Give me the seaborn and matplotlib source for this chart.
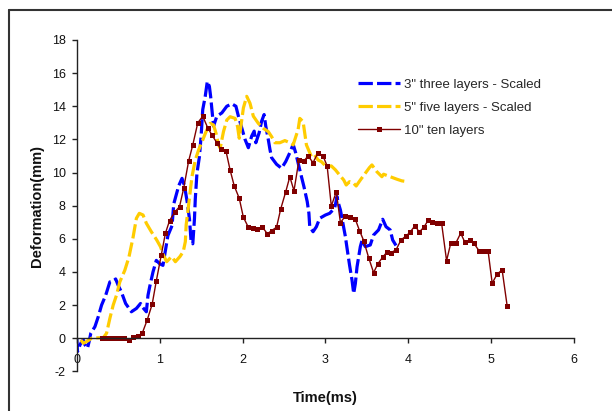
import numpy as np
import pandas as pd
import matplotlib
matplotlib.use("Agg")
import matplotlib.pyplot as plt
from matplotlib.lines import Line2D
import seaborn as sns

# 3" three layers - Scaled
time_3in = [0.00, 0.01, 0.04, 0.06, 0.08, 0.10, 0.13, 0.15, 0.17, 0.22, 0.26, 0.30, 0.35, 0.40,
            0.44, 0.47, 0.50, 0.54, 0.59, 0.66, 0.72, 0.77, 0.79, 0.84, 0.86, 0.88, 0.92, 0.96,
            1.00, 1.04, 1.08, 1.10, 1.15, 1.17, 1.23, 1.27, 1.30, 1.33, 1.36, 1.38, 1.40, 1.42,
            1.43, 1.45, 1.48, 1.50, 1.52, 1.55, 1.575, 1.60, 1.615, 1.65, 1.69, 1.75, 1.81, 1.87,
            1.92, 1.95, 1.99, 2.03, 2.07, 2.11, 2.14, 2.16, 2.20, 2.23, 2.26, 2.28, 2.31, 2.33,
            2.35, 2.41, 2.47, 2.52, 2.57, 2.61, 2.64, 2.69, 2.74, 2.78, 2.80, 2.81, 2.85, 2.89,
            2.93, 3.00, 3.05, 3.11, 3.14, 3.15, 3.18, 3.21, 3.24, 3.26, 3.29, 3.32, 3.34, 3.36,
            3.38, 3.42, 3.44, 3.48, 3.54, 3.58, 3.64, 3.69, 3.73, 3.78, 3.81, 3.85]
defl_3in = [0.0, -0.8, -0.4, -0.2, -0.1, -0.4, -0.6, -0.2, 0.3, 0.7, 1.3, 2.0, 2.6, 3.4,
            3.45, 3.58, 3.2, 2.78, 2.1, 1.6, 1.8, 2.1, 1.9, 1.6, 2.6, 3.1, 4.0, 4.7,
            4.5, 4.4, 5.6, 6.2, 6.8, 8.1, 9.2, 9.65, 9.2, 8.3, 7.2, 5.8, 5.7, 7.2,
            8.4, 9.96, 10.96, 12.17, 13.8, 14.6, 15.5, 15.2, 14.6, 12.8, 13.4, 13.6, 14.0, 14.15,
            14.0, 13.4, 12.7, 12.0, 11.5, 12.2, 12.5, 11.8, 12.4, 13.1, 13.5, 12.8, 12.0, 11.4,
            10.9, 10.5, 10.26, 10.66, 11.2, 11.7, 11.2, 10.16, 9.15, 8.24, 7.54, 6.73, 6.43, 6.73,
            7.24, 7.44, 7.54, 7.85, 8.55, 8.25, 7.74, 6.94, 6.13, 5.43, 4.42, 3.5, 2.7, 3.3,
            4.3, 5.53, 5.9, 5.53, 5.63, 6.23, 6.54, 7.18, 6.73, 6.54, 5.93, 5.6]

# 5" five layers - Scaled
time_5in = [0.05, 0.08, 0.12, 0.15, 0.18, 0.26, 0.32, 0.36, 0.40, 0.44, 0.48, 0.52, 0.58, 0.63,
            0.68, 0.72, 0.755, 0.80, 0.84, 0.90, 0.965, 1.01, 1.045, 1.085, 1.145, 1.19, 1.245,
            1.285, 1.31, 1.32, 1.34, 1.39, 1.43, 1.47, 1.52, 1.56, 1.61, 1.65, 1.68, 1.71, 1.73,
            1.77, 1.81, 1.85, 1.91, 1.94, 1.96, 2.01, 2.05, 2.09, 2.13, 2.19, 2.25, 2.31, 2.35,
            2.39, 2.45, 2.51, 2.57, 2.61, 2.67, 2.69, 2.73, 2.75, 2.77, 2.83, 2.87, 2.91, 2.95,
            3.01, 3.07, 3.12, 3.17, 3.22, 3.25, 3.29, 3.34, 3.37, 3.42, 3.48, 3.53, 3.56, 3.62,
            3.68, 3.70, 3.78, 3.86, 3.92, 3.99]
defl_5in = [-0.1, -0.3, -0.2, -0.1, 0.0, 0.03, 0.03, 0.3, 1.2, 2.0, 2.6, 3.4, 4.1, 4.9,
            6.1, 7.24, 7.54, 7.44, 6.94, 6.43, 5.93, 5.53, 5.03, 4.62, 4.93, 4.62, 4.93,
            5.23, 5.83, 6.84, 7.64, 9.75, 10.76, 11.36, 11.97, 12.47, 12.97, 12.87, 12.37, 11.67, 11.47,
            12.47, 13.17, 13.37, 13.27, 12.77, 12.07, 13.9, 14.6, 14.18, 13.4, 12.97, 12.67, 12.47, 12.17,
            11.8, 11.8, 11.93, 11.8, 11.67, 12.6, 13.27, 13.07, 12.37, 11.67, 10.96, 11.06, 10.76, 10.66,
            10.36, 10.4, 10.16, 9.85, 9.55, 9.25, 9.45, 9.35, 9.19, 9.55, 9.96, 10.3, 10.46, 10.05,
            9.75, 9.9, 9.75, 9.6, 9.5, 9.45]

# 10" ten layers
time_10in = [0.30, 0.36, 0.41, 0.47, 0.52, 0.57, 0.63, 0.68, 0.74, 0.79, 0.85, 0.91, 0.96, 1.02,
             1.07, 1.12, 1.18, 1.24, 1.29, 1.35, 1.40, 1.46, 1.52, 1.58, 1.63, 1.69, 1.74, 1.80,
             1.85, 1.90, 1.96, 2.01, 2.07, 2.13, 2.18, 2.24, 2.30, 2.35, 2.41, 2.46, 2.52, 2.57,
             2.62, 2.68, 2.74, 2.79, 2.85, 2.91, 2.97, 3.02, 3.07, 3.13, 3.18, 3.24, 3.30, 3.36,
             3.41, 3.46, 3.52, 3.58, 3.63, 3.69, 3.74, 3.79, 3.85, 3.91, 3.97, 4.02, 4.08, 4.13,
             4.19, 4.24, 4.29, 4.35, 4.40, 4.46, 4.51, 4.57, 4.63, 4.68, 4.74, 4.79, 4.85, 4.90,
             4.96, 5.01, 5.07, 5.13, 5.19]
defl_10in = [0.0, 0.0, 0.0, 0.0, 0.0, 0.0, -0.1, 0.05, 0.15, 0.3, 1.1, 2.05, 3.46, 5.03,
             6.34, 7.1, 7.6, 7.94, 9.05, 10.7, 11.67, 13.0, 13.4, 12.7, 12.27, 11.8, 11.4, 11.3,
             10.15, 9.19, 8.45, 7.3, 6.7, 6.64, 6.6, 6.7, 6.3, 6.5, 6.7, 7.8, 8.83, 9.75,
             8.9, 10.76, 10.7, 11.0, 10.6, 11.2, 11.0, 10.4, 7.98, 8.83, 6.98, 7.38, 7.34, 7.18,
             6.5, 5.9, 4.87, 3.96, 4.48, 4.9, 5.19, 5.17, 5.33, 5.93, 6.17, 6.4, 6.8, 6.4,
             6.73, 7.14, 7.0, 6.94, 6.94, 4.68, 5.73, 5.73, 6.34, 5.8, 5.93, 5.73, 5.29, 5.29,
             5.29, 3.32, 3.88, 4.12, 1.97]

x_ticks = [0, 1, 2, 3, 4, 5, 6]
y_ticks = [-2, 0, 2, 4, 6, 8, 10, 12, 14, 16, 18]

sns.set_theme(style="white")
plt.rcParams['font.family'] = ['Liberation Sans', 'DejaVu Sans']
plt.rcParams['axes.unicode_minus'] = False

fig = plt.figure(figsize=(6.12, 4.11), dpi=100)
ax = fig.add_axes([0.1253, 0.0963, 0.8131, 0.8064])

dash = (0, (4.5, 1.3))
sns.lineplot(x=time_3in, y=defl_3in, ax=ax, sort=False, estimator=None, color="#0000FF",
             lw=2.3, linestyle=dash, label='3" three layers - Scaled')
sns.lineplot(x=time_5in, y=defl_5in, ax=ax, sort=False, estimator=None, color="#FFCC00",
             lw=2.3, linestyle=dash, label='5" five layers - Scaled')
sns.lineplot(x=time_10in, y=defl_10in, ax=ax, sort=False, estimator=None, color="#800000",
             lw=1.0, marker="s", markersize=3.6, markeredgewidth=0, label='10" ten layers')

ax.set_xlim(0, 6)
ax.set_ylim(-2, 18)
ax.set_xticks(x_ticks)
ax.set_yticks(y_ticks)

for side in ["top", "right"]:
    ax.spines[side].set_visible(False)
ax.spines["bottom"].set_position(("data", 0))
for side in ["left", "bottom"]:
    ax.spines[side].set_color("#222222")
    ax.spines[side].set_linewidth(1.0)

ax.tick_params(axis="both", direction="out", length=3.5, width=1.0, color="#222222",
               labelsize=9, labelcolor="#111111")
ax.tick_params(axis="x", pad=8, bottom=True)
ax.tick_params(axis="y", pad=4.5, left=True)

ax.set_xlabel("Time(ms)", fontsize=10.5, fontweight="bold", color="#111111")
ax.set_ylabel("Deformation(mm)", fontsize=10.5, fontweight="bold", color="#111111")
ax.xaxis.set_label_coords(0.5, -0.059)
ax.yaxis.set_label_coords(-0.066, 0.5)

ax.legend(loc="upper left", bbox_to_anchor=(357.7 / 612, 1 - 78.5 / 411),
          bbox_transform=fig.transFigure, frameon=False, fontsize=9.5,
          borderpad=0, borderaxespad=0, handlelength=3.2, handletextpad=0.3,
          labelspacing=0.83)

# chart area border (only top and left edges fall inside the image)
fig.add_artist(Line2D([8.5 / 612, 1.0], [1 - 10 / 411, 1 - 10 / 411],
                      transform=fig.transFigure, color="#333333", lw=1.5))
fig.add_artist(Line2D([8.5 / 612, 8.5 / 612], [0.0, 1 - 10 / 411],
                      transform=fig.transFigure, color="#333333", lw=1.5))

fig.savefig("out.png", dpi=100)
